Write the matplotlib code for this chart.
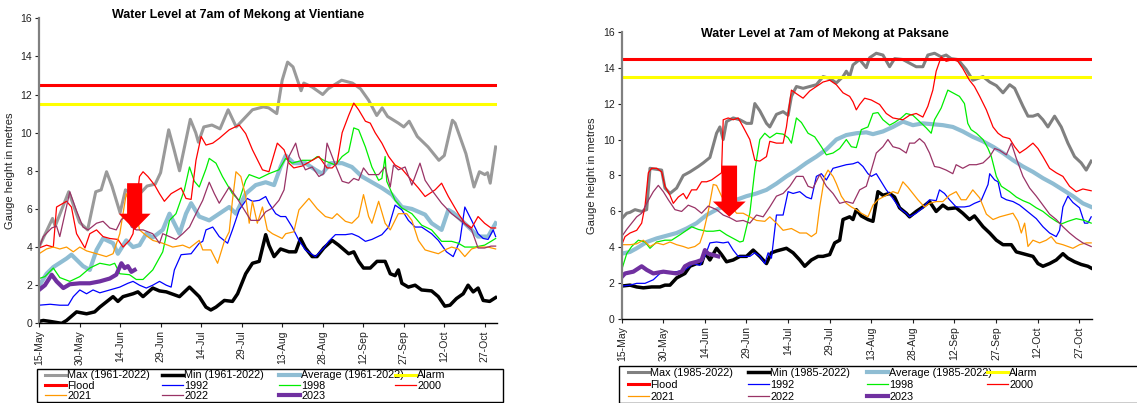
import matplotlib
matplotlib.use("Agg")
import matplotlib.pyplot as plt
from matplotlib.patches import Rectangle

plt.rcParams['font.family'] = ['Liberation Sans', 'DejaVu Sans']

# day 0 = 15 May
tick_days = [0, 15, 30, 45, 60, 75, 90, 105, 120, 135, 150, 165]
tick_labels = ['15-May', '30-May', '14-Jun', '29-Jun', '14-Jul', '29-Jul',
               '13-Aug', '28-Aug', '12-Sep', '27-Sep', '12-Oct', '27-Oct']

# ---------------- Vientiane ----------------
vte_flood = 12.5
vte_alarm = 11.5

vte_max_d = [0, 5, 6, 11, 15, 18, 21, 23, 25, 27, 30, 32, 36, 40, 43, 45, 48, 50, 52, 56, 58, 59, 61, 64, 67, 70,
             73, 75, 79, 83, 85, 88, 90, 92, 94, 97, 98, 101, 105, 107, 112, 116, 119, 122, 125, 127, 129, 133, 135,
             137, 140, 144, 148, 150, 153, 154, 158, 161, 163, 165, 166, 167, 169]
vte_max_v = [4.0, 5.5, 5.1, 6.9, 5.3, 4.9, 6.9, 7.0, 7.95, 7.2, 5.8, 7.0, 6.6, 7.2, 7.3, 7.9, 10.15, 9.1, 8.0, 10.7,
             10.0, 9.5, 10.3, 10.4, 10.2, 11.2, 10.3, 10.6, 11.2, 11.35, 11.3, 11.0, 12.75, 13.7, 13.45, 12.2, 12.6,
             12.4, 12.0, 12.3, 12.75, 12.6, 12.3, 11.7, 10.9, 11.3, 10.85, 10.5, 10.3, 10.6, 9.8, 9.25, 8.55, 8.8,
             10.65, 10.5, 8.9, 7.15, 7.95, 7.8, 7.9, 7.35, 9.25]

vte_min_d = [0, 1.6, 4.1, 8.4, 10.2, 13.9, 17.6, 20.6, 22.5, 27.4, 29.2, 31.1, 34.8, 36.6, 38.5, 42.1, 44.6, 47.1,
             52.0, 55.7, 59.3, 61.8, 63.6, 65.5, 68.6, 71.6, 73.5, 76.5, 79.0, 81.5, 83.9, 85.1, 87.0, 89.4, 92.5,
             95.0, 96.8, 98.6, 101.1, 102.9, 105.4, 108.5, 110.9, 114.6, 116.5, 118.3, 120.1, 122.6, 125.1, 128.1,
             130.0, 131.8, 133.0, 134.3, 136.7, 139.2, 141.6, 145.3, 147.8, 150.2, 152.1, 154.5, 157.0, 158.8,
             160.7, 162.5, 164.4, 166.8, 169]
vte_min_v = [0.1, 0.15, 0.1, 0.0, 0.15, 0.6, 0.5, 0.6, 0.85, 1.4, 1.15, 1.4, 1.55, 1.65, 1.4, 1.85, 1.7, 1.65,
             1.4, 1.9, 1.4, 0.85, 0.7, 0.85, 1.2, 1.15, 1.55, 2.6, 3.15, 3.25, 4.65, 4.1, 3.5, 3.9, 3.75, 3.75,
             4.45, 3.95, 3.5, 3.5, 3.95, 4.35, 4.1, 3.65, 3.75, 3.25, 2.9, 2.9, 3.25, 3.25, 2.6, 2.5, 2.8, 2.1,
             1.9, 2.0, 1.75, 1.7, 1.4, 0.9, 0.95, 1.3, 1.55, 2.0, 1.65, 1.85, 1.2, 1.15, 1.35]

vte_avg_d = [0, 2.8, 5.3, 10.2, 12.0, 16.3, 18.8, 21.3, 23.7, 27.4, 29.2, 32.3, 34.8, 37.2, 39.7, 42.1, 45.8,
             48.3, 52.0, 54.4, 56.3, 59.3, 63.0, 66.7, 70.4, 72.9, 76.5, 80.2, 83.9, 87.0, 89.4, 91.3, 94.3, 98.6,
             102.3, 104.8, 107.9, 112.2, 115.8, 119.5, 123.2, 126.9, 130.6, 134.3, 138.0, 142.9, 145.3, 149.0,
             151.5, 153.3, 156.4, 160.1, 162.5, 166.2, 169]
vte_avg_v = [1.95, 2.6, 2.95, 3.4, 3.6, 3.0, 2.8, 3.85, 4.45, 4.2, 3.65, 4.35, 4.0, 4.1, 4.7, 4.5, 4.9, 5.75,
             4.7, 5.75, 6.3, 5.6, 5.4, 5.75, 6.1, 5.75, 6.8, 7.25, 7.4, 7.25, 8.2, 8.8, 8.4, 8.4, 8.05, 7.85, 8.4,
             8.4, 8.2, 7.7, 7.4, 7.1, 6.75, 6.1, 6.0, 5.7, 5.25, 4.9, 5.95, 5.8, 5.4, 4.9, 4.55, 4.55, 5.25]

vte_1992_d = [0, 4.1, 7.7, 10.8, 12.7, 15.1, 17.6, 20.0, 22.5, 26.2, 29.9, 32.9, 34.8, 37.2, 39.7, 42.1, 44.6,
              47.1, 48.9, 50.1, 52.6, 56.3, 59.3, 60.6, 61.8, 64.3, 66.7, 69.8, 71.6, 74.1, 77.1, 79.0, 81.5,
              83.9, 85.1, 87.6, 89.4, 91.3, 93.7, 96.2, 98.6, 102.3, 105.4, 107.2, 109.7, 113.4, 115.8, 118.3,
              120.8, 123.2, 126.9, 129.4, 131.8, 134.3, 136.7, 139.2, 141.6, 145.3, 147.8, 150.8, 153.3, 155.8,
              157.6, 160.1, 162.5, 164.4, 166.2, 168.1, 169]
vte_1992_v = [0.95, 1.0, 0.95, 0.95, 1.4, 1.75, 1.55, 1.75, 1.6, 1.75, 1.9, 2.1, 2.2, 2.0, 1.85, 2.0, 2.2, 2.0,
              1.9, 2.8, 3.6, 3.65, 4.2, 4.3, 4.9, 5.05, 4.55, 4.2, 4.9, 5.95, 6.55, 6.4, 6.45, 6.65, 6.3, 5.75,
              5.6, 5.6, 5.05, 4.35, 3.85, 3.5, 3.95, 4.3, 4.65, 4.65, 4.7, 4.55, 4.3, 4.4, 4.65, 5.05, 6.2, 5.95,
              5.4, 5.05, 5.05, 4.7, 4.35, 3.75, 3.5, 4.35, 6.1, 5.4, 4.7, 4.45, 4.4, 4.9, 4.55]

vte_1998_d = [0, 2.2, 5.3, 7.7, 11.4, 15.1, 18.8, 22.5, 26.2, 28.0, 29.9, 33.5, 36.0, 38.5, 42.1, 45.8, 48.3,
              50.7, 53.8, 55.7, 57.5, 59.3, 61.8, 63.0, 65.5, 67.9, 71.6, 74.1, 76.5, 77.8, 81.5, 85.1, 88.8,
              91.3, 93.7, 97.4, 101.1, 103.0, 105.4, 109.7, 112.2, 114.6, 116.5, 118.3, 120.8, 123.2, 125.7,
              126.9, 128.1, 128.7, 131.8, 134.3, 138.0, 141.6, 145.3, 149.0, 152.7, 155.2, 157.6, 161.3, 164.9,
              167.3, 169]
vte_1998_v = [2.35, 2.45, 2.9, 2.4, 2.2, 2.45, 2.9, 3.15, 3.05, 3.15, 2.6, 2.55, 2.3, 2.3, 2.8, 3.75, 5.4, 5.75,
              7.0, 8.2, 7.45, 7.15, 8.1, 8.65, 8.4, 7.7, 6.8, 6.45, 7.5, 7.8, 7.6, 7.85, 8.05, 8.65, 8.4, 8.55,
              8.55, 8.75, 8.55, 8.3, 8.75, 9.0, 10.25, 10.15, 9.25, 8.2, 7.5, 7.6, 8.75, 7.45, 6.45, 6.05, 5.75,
              5.15, 4.9, 4.3, 4.3, 4.2, 4.0, 4.0, 4.1, 4.3, 4.45]

vte_2000_d = [0, 2.8, 5.3, 6.5, 10.2, 12.0, 13.9, 17.0, 18.8, 21.3, 23.7, 26.2, 29.2, 31.1, 33.5, 34.8, 37.2,
              38.5, 40.3, 42.8, 44.6, 46.4, 48.9, 52.6, 54.4, 56.3, 58.1, 60.0, 61.8, 64.3, 66.7, 70.4, 74.1,
              76.5, 79.0, 82.7, 85.1, 88.2, 90.7, 92.5, 94.3, 97.4, 100.5, 103.6, 106.6, 108.5, 110.3, 112.2,
              114.6, 116.5, 118.3, 120.8, 122.6, 124.4, 126.9, 129.4, 131.8, 134.3, 136.7, 140.4, 142.9, 146.6,
              149.0, 151.5, 155.2, 157.6, 160.1, 162.5, 164.9, 167.3, 169]
vte_2000_v = [3.95, 4.1, 4.0, 6.1, 6.4, 6.1, 4.7, 3.95, 4.7, 4.9, 4.55, 4.45, 4.4, 4.0, 4.35, 4.7, 7.7, 7.95,
              7.7, 7.25, 6.8, 6.4, 6.8, 7.1, 6.55, 6.5, 8.55, 9.8, 9.35, 9.45, 9.7, 10.15, 10.4, 9.95, 9.1, 8.05,
              7.95, 9.45, 9.1, 8.4, 8.15, 8.25, 8.5, 8.75, 8.15, 8.15, 8.4, 10.0, 10.9, 11.55, 11.2, 10.6, 10.5,
              10.0, 9.45, 8.75, 8.3, 8.1, 7.7, 7.1, 6.65, 7.0, 7.35, 6.65, 5.75, 5.25, 5.0, 5.6, 5.25, 5.0, 5.0]

vte_2021_d = [0, 2.8, 5.3, 7.7, 10.2, 12.7, 15.1, 17.6, 21.3, 24.9, 27.4, 29.9, 31.1, 32.3, 33.5, 34.8, 36.0,
              37.2, 39.7, 42.1, 45.8, 49.5, 53.2, 55.7, 59.3, 60.6, 63.6, 66.1, 68.6, 70.4, 71.6, 72.9, 74.7,
              76.5, 77.8, 79.0, 80.8, 82.7, 84.5, 86.4, 90.0, 91.3, 94.3, 96.2, 99.9, 103.0, 106.0, 108.5, 110.3,
              113.4, 115.8, 118.3, 120.1, 122.0, 123.2, 125.7, 128.1, 130.0, 133.0, 136.1, 138.0, 140.4, 142.9,
              145.3, 147.8, 150.2, 152.7, 155.2, 157.6, 160.1, 162.5, 166.2, 169]
vte_2021_v = [3.65, 3.9, 4.0, 3.9, 4.0, 3.75, 4.0, 3.8, 3.65, 3.5, 3.65, 4.7, 5.75, 6.8, 6.3, 5.95, 5.8, 4.9,
              4.6, 4.35, 4.2, 4.0, 4.1, 3.95, 4.35, 3.85, 3.85, 3.15, 4.3, 4.8, 6.45, 7.95, 7.7, 6.65, 5.25, 6.4,
              5.25, 6.1, 4.9, 4.7, 4.45, 4.7, 4.8, 5.95, 6.55, 6.0, 5.6, 5.5, 5.75, 5.35, 5.25, 5.6, 6.75, 5.6,
              5.25, 6.4, 5.25, 4.9, 5.75, 5.75, 5.4, 4.35, 3.85, 3.75, 3.65, 3.85, 4.0, 3.9, 3.5, 3.9, 4.0, 4.0,
              3.9]

vte_2022_d = [0, 1.6, 4.7, 6.5, 7.7, 9.6, 11.4, 13.9, 16.3, 18.2, 21.3, 23.7, 26.2, 28.6, 30.5, 32.3, 34.2,
              36.0, 38.5, 42.1, 44.6, 45.8, 48.3, 50.7, 53.2, 55.7, 58.1, 60.6, 63.0, 64.9, 66.7, 70.4, 72.9,
              75.3, 78.4, 81.5, 83.9, 86.4, 88.8, 90.7, 92.5, 95.0, 96.2, 98.6, 101.1, 103.6, 105.4, 106.6, 108.5,
              109.7, 112.2, 114.6, 116.5, 118.3, 120.1, 122.0, 125.7, 128.1, 130.0, 131.2, 133.0, 135.5, 138.0,
              141.0, 142.9, 145.3, 149.0, 152.7, 156.4, 160.1, 162.5, 164.9, 167.3, 169]
vte_2022_v = [3.95, 4.55, 5.0, 5.1, 4.55, 5.75, 6.9, 5.9, 5.05, 4.9, 5.25, 5.35, 5.0, 4.9, 5.45, 5.6, 5.05, 4.9,
              4.9, 4.7, 4.2, 4.7, 4.55, 4.4, 4.7, 5.05, 5.75, 6.45, 7.4, 6.8, 6.3, 7.15, 6.65, 6.1, 5.4, 5.4,
              5.85, 6.05, 6.45, 7.0, 8.75, 9.45, 8.75, 8.05, 8.2, 7.7, 7.85, 9.45, 8.75, 8.3, 7.45, 7.35, 7.6,
              7.5, 8.15, 7.8, 7.8, 8.2, 7.15, 8.3, 8.05, 8.2, 7.25, 8.4, 7.5, 7.0, 6.3, 5.75, 5.35, 4.9, 3.95,
              3.95, 4.05, 4.05]

vte_2023_d = [0, 2.2, 4.7, 6.5, 9.0, 11.4, 15.1, 18.8, 22.5, 26.2, 28.6, 30.5, 31.7, 32.9, 34.2, 35.4]
vte_2023_v = [1.75, 2.0, 2.55, 2.2, 1.85, 2.05, 2.1, 2.1, 2.2, 2.35, 2.55, 3.15, 2.9, 3.0, 2.7, 2.8]

# ---------------- Paksane ----------------
pks_flood = 14.5
pks_alarm = 13.5

pks_max_d = [0, 1.8, 3.0, 4.8, 7.2, 9.0, 10.2, 14.4, 15.6, 17.4, 19.8, 22.2, 24.6, 27.6, 29.4, 31.8, 34.2,
             35.4, 36.6, 37.8, 40.2, 42.6, 45.0, 46.8, 48.0, 49.8, 52.2, 53.4, 55.8, 58.2, 60.0, 61.2, 63.0,
             65.4, 67.8, 70.2, 72.6, 75.0, 77.4, 79.8, 81.0, 82.2, 83.4, 85.8, 88.2, 89.4, 91.8, 94.2, 96.6,
             98.4, 101.4, 103.8, 106.2, 108.6, 110.4, 112.8, 115.2, 117.0, 118.8, 121.2, 124.2, 126.6, 130.3,
             132.7, 135.1, 137.5, 139.9, 141.7, 144.7, 146.5, 148.3, 150.1, 151.9, 153.7, 156.1, 158.5, 160.9,
             163.3, 165.7, 167.5, 169.3]
pks_max_v = [5.6, 5.9, 5.95, 6.1, 6.0, 6.1, 8.4, 8.3, 7.3, 7.0, 7.3, 8.0, 8.2, 8.5, 8.7, 9.0, 10.35, 10.7,
             10.0, 11.0, 11.2, 11.1, 10.9, 10.9, 12.0, 11.6, 10.9, 10.7, 11.4, 11.55, 11.35, 12.4, 12.95, 12.85,
             12.95, 13.05, 13.5, 13.4, 13.15, 13.5, 13.8, 13.5, 14.15, 14.45, 14.0, 14.55, 14.8, 14.7, 14.05,
             14.5, 14.45, 14.25, 14.05, 14.05, 14.7, 14.8, 14.6, 14.7, 14.5, 14.45, 13.9, 13.3, 13.5, 13.2, 13.0,
             12.6, 13.05, 12.85, 11.85, 11.3, 11.3, 11.4, 11.1, 10.7, 11.3, 10.7, 9.8, 9.05, 8.7, 8.3, 8.8]

pks_min_d = [0, 3.0, 5.4, 7.8, 10.8, 13.8, 15.6, 17.4, 19.8, 22.8, 24.6, 27.0, 28.8, 30.0, 31.8, 34.2, 36.0,
             37.8, 40.2, 42.6, 45.0, 47.4, 49.8, 52.2, 54.0, 55.8, 59.4, 61.8, 64.2, 66.0, 68.4, 70.8, 72.6,
             75.0, 76.8, 78.6, 79.8, 82.2, 83.4, 84.6, 86.4, 88.8, 90.6, 92.4, 94.2, 96.6, 98.4, 100.2, 102.6,
             103.8, 106.2, 108.6, 111.0, 113.4, 115.8, 117.6, 120.6, 123.0, 125.4, 127.2, 130.3, 132.7, 135.1,
             137.5, 140.5, 142.3, 144.7, 148.3, 150.1, 151.9, 154.3, 156.7, 159.1, 160.9, 163.3, 165.7, 168.1,
             169.3]
pks_min_v = [1.85, 1.9, 1.8, 1.75, 1.8, 1.8, 1.9, 1.9, 2.3, 2.55, 2.95, 3.1, 3.1, 3.7, 3.3, 3.95, 3.6, 3.2,
             3.3, 3.5, 3.5, 3.85, 3.5, 3.1, 3.7, 3.8, 3.95, 3.7, 3.3, 2.95, 3.3, 3.5, 3.5, 3.6, 4.25, 4.4, 5.55,
             5.7, 5.55, 6.1, 5.75, 5.55, 5.45, 7.1, 6.9, 7.0, 6.8, 6.2, 5.9, 5.7, 6.0, 6.25, 6.55, 6.0, 6.35,
             6.15, 6.2, 5.9, 5.55, 5.75, 5.15, 4.8, 4.4, 4.15, 4.15, 3.75, 3.65, 3.5, 3.1, 2.95, 3.1, 3.3, 3.65,
             3.4, 3.2, 3.05, 2.95, 2.85]

pks_avg_d = [0, 3.0, 5.4, 9.0, 12.6, 16.2, 19.8, 23.4, 27.0, 30.6, 34.2, 37.8, 41.4, 45.0, 48.6, 52.2, 55.8,
             59.4, 63.0, 66.6, 70.2, 73.8, 77.4, 81.0, 84.6, 88.2, 90.6, 94.2, 97.8, 101.4, 105.0, 108.6, 112.2,
             115.8, 119.4, 123.0, 126.6, 130.3, 133.9, 137.5, 141.1, 144.7, 148.3, 151.9, 155.5, 159.1, 162.7,
             166.3, 169.3]
pks_avg_v = [3.65, 3.75, 3.95, 4.3, 4.5, 4.65, 4.8, 5.05, 5.35, 5.8, 6.1, 6.35, 6.65, 6.85, 7.0, 7.2, 7.55,
             7.95, 8.3, 8.7, 9.05, 9.45, 10.0, 10.25, 10.35, 10.4, 10.3, 10.45, 10.7, 11.0, 10.8, 10.9, 10.85,
             10.8, 10.7, 10.45, 10.15, 9.9, 9.6, 9.25, 8.85, 8.5, 8.2, 7.85, 7.55, 7.2, 6.85, 6.45, 6.25]

pks_1992_d = [0, 3.0, 5.4, 8.4, 11.4, 13.8, 16.2, 19.8, 22.8, 25.8, 28.2, 30.0, 31.8, 34.2, 36.6, 38.4, 40.2,
              42.0, 43.8, 46.2, 48.0, 49.8, 51.6, 52.8, 54.0, 55.8, 58.2, 60.0, 61.8, 64.2, 66.6, 68.4, 70.2,
              72.0, 73.8, 76.2, 78.6, 81.0, 83.4, 85.2, 87.0, 88.8, 90.0, 91.8, 93.6, 95.4, 97.2, 99.0, 100.8,
              102.6, 103.8, 106.2, 108.6, 111.0, 113.4, 114.6, 116.4, 118.2, 120.6, 123.6, 125.4, 127.2, 129.6,
              132.1, 132.7, 134.5, 135.7, 136.9, 138.7, 141.1, 143.5, 147.1, 149.5, 151.9, 154.3, 156.7, 157.9,
              159.1, 160.9, 162.7, 165.1, 166.9, 168.1, 169.3]
pks_1992_v = [1.85, 1.9, 2.0, 2.0, 2.2, 2.55, 2.65, 2.65, 2.75, 3.1, 3.0, 3.5, 4.25, 4.3, 4.25, 4.3, 3.85, 3.5,
              3.5, 3.5, 3.7, 3.5, 3.1, 3.7, 3.4, 5.8, 5.8, 7.1, 7.0, 7.1, 6.8, 6.7, 7.95, 8.1, 7.75, 8.4, 8.5,
              8.6, 8.65, 8.75, 8.5, 8.1, 7.95, 8.1, 7.65, 7.2, 6.85, 6.45, 6.1, 5.9, 5.7, 5.9, 6.2, 6.65, 6.6,
              7.2, 7.0, 6.65, 6.25, 6.25, 6.3, 6.45, 6.6, 7.5, 8.1, 7.75, 7.65, 6.8, 6.65, 6.55, 6.35, 5.9, 5.6,
              5.15, 4.8, 4.6, 4.95, 6.25, 6.85, 6.5, 6.2, 5.35, 5.35, 5.7]

pks_1998_d = [0, 1.8, 3.6, 6.0, 8.4, 10.2, 12.6, 15.6, 18.0, 21.0, 23.4, 25.2, 27.6, 30.6, 33.0, 35.4, 37.8,
              40.2, 42.6, 43.8, 46.2, 48.0, 49.8, 51.6, 53.4, 55.8, 58.2, 60.0, 61.2, 63.0, 64.8, 67.2, 69.6,
              72.0, 73.8, 76.2, 78.6, 81.0, 82.8, 84.6, 86.4, 88.8, 90.6, 92.4, 94.2, 96.6, 98.4, 100.8, 102.6,
              105.0, 107.4, 109.8, 111.6, 112.8, 115.2, 117.6, 119.4, 121.8, 123.6, 124.8, 126.0, 127.9, 130.3,
              132.1, 133.3, 135.1, 136.9, 139.9, 142.3, 144.7, 147.1, 149.5, 151.9, 154.3, 156.7, 158.5, 160.9,
              163.9, 166.9, 169.3]
pks_1998_v = [2.75, 3.65, 4.05, 4.4, 4.3, 3.95, 4.3, 4.4, 4.4, 4.7, 4.95, 5.15, 5.0, 4.9, 4.9, 4.95, 4.7, 4.5,
              4.3, 4.35, 5.9, 8.3, 10.0, 10.35, 10.1, 10.35, 10.3, 10.1, 9.8, 11.2, 10.95, 10.35, 10.15, 9.6,
              9.15, 9.25, 9.5, 10.0, 9.6, 9.55, 10.55, 10.7, 11.45, 11.5, 11.1, 10.8, 10.95, 11.2, 11.45, 11.35,
              11.0, 10.65, 10.35, 11.1, 11.75, 12.75, 12.6, 12.4, 12.0, 10.9, 10.55, 10.35, 10.0, 9.5, 9.05,
              7.95, 7.4, 7.1, 6.8, 6.6, 6.45, 6.2, 6.0, 5.7, 5.45, 5.3, 5.45, 5.6, 5.5, 5.35]

pks_2000_d = [0, 1.2, 3.0, 5.4, 7.2, 8.4, 9.6, 10.8, 12.6, 14.4, 15.6, 17.4, 18.6, 20.4, 22.2, 23.4, 25.2,
              27.0, 28.8, 30.6, 32.4, 34.2, 36.0, 36.6, 38.4, 40.2, 42.0, 43.8, 46.2, 48.0, 49.8, 52.2, 53.4,
              55.8, 58.2, 59.4, 61.2, 63.0, 65.4, 67.8, 70.2, 72.6, 75.0, 77.4, 79.8, 82.2, 83.4, 84.6, 85.8,
              87.6, 90.0, 93.0, 95.4, 97.8, 101.4, 103.8, 106.2, 108.6, 110.4, 112.2, 113.4, 115.2, 117.0, 119.4,
              121.2, 123.0, 125.4, 127.2, 129.1, 131.5, 133.9, 135.7, 137.5, 139.9, 141.7, 143.5, 145.9, 148.3,
              150.1, 151.9, 154.3, 156.7, 159.1, 161.5, 163.9, 166.3, 169.3]
pks_2000_v = [4.15, 4.6, 4.8, 4.95, 5.35, 6.3, 8.15, 8.4, 8.4, 8.2, 7.4, 6.9, 6.45, 6.8, 7.0, 6.7, 7.2, 7.2,
              7.65, 7.65, 7.75, 7.95, 8.15, 11.1, 11.2, 11.1, 11.2, 10.7, 10.0, 8.85, 8.8, 9.05, 9.9, 9.8, 9.8,
              10.7, 12.75, 12.55, 12.3, 12.7, 12.95, 13.2, 13.3, 13.05, 12.6, 12.4, 12.1, 11.65, 11.95, 12.3,
              12.2, 11.95, 11.45, 11.2, 11.1, 11.35, 11.45, 11.25, 11.85, 12.75, 13.8, 14.6, 14.35, 14.45, 14.35,
              13.95, 13.3, 12.95, 12.4, 11.65, 10.7, 10.35, 10.15, 10.05, 9.6, 9.25, 9.5, 9.8, 9.5, 9.05, 8.4,
              8.15, 7.95, 7.4, 7.1, 7.25, 7.15]

pks_2021_d = [0, 3.0, 5.4, 7.8, 10.2, 12.6, 15.0, 17.4, 19.8, 22.2, 24.0, 26.4, 28.2, 29.4, 31.2, 33.0, 34.2,
              36.0, 37.8, 39.6, 41.4, 43.8, 46.2, 48.6, 51.6, 53.4, 55.8, 58.2, 61.2, 64.2, 66.6, 68.4, 70.2,
              71.4, 73.2, 74.4, 76.2, 77.4, 79.2, 81.0, 82.8, 84.6, 86.4, 88.8, 90.6, 92.4, 94.8, 97.8, 99.6,
              101.4, 103.2, 105.0, 106.8, 109.2, 111.0, 113.4, 115.8, 118.2, 120.6, 122.4, 124.2, 126.6, 129.1,
              131.5, 133.9, 136.3, 138.7, 141.1, 142.9, 144.1, 145.3, 146.5, 148.3, 150.7, 153.1, 154.9, 156.7,
              159.1, 160.9, 162.7, 165.1, 167.5, 169.3]
pks_2021_v = [4.15, 4.15, 4.2, 4.4, 4.05, 4.25, 4.15, 4.3, 4.15, 4.05, 3.95, 4.05, 4.25, 4.8, 6.0, 7.5, 7.45,
              6.85, 6.45, 6.3, 5.9, 5.9, 5.7, 5.5, 5.45, 5.7, 5.35, 4.95, 5.05, 4.8, 4.8, 4.6, 4.8, 6.25, 7.95,
              8.3, 7.95, 7.55, 6.85, 6.45, 6.25, 6.1, 5.9, 5.7, 6.35, 6.65, 6.85, 7.1, 7.0, 7.65, 7.35, 7.0,
              6.65, 6.25, 6.45, 6.55, 6.55, 6.9, 7.1, 6.65, 6.65, 7.2, 6.75, 5.85, 5.55, 5.7, 5.8, 5.9, 5.45,
              4.8, 5.35, 4.05, 4.4, 4.25, 4.4, 4.6, 4.25, 4.15, 4.05, 3.95, 4.15, 4.25, 4.25]

pks_2022_d = [0, 1.8, 3.6, 5.4, 7.2, 9.0, 11.4, 13.2, 15.0, 16.8, 19.2, 21.6, 24.0, 26.4, 28.8, 31.2, 34.2,
              36.6, 39.0, 41.4, 43.8, 46.2, 48.6, 51.0, 53.4, 55.8, 58.2, 60.6, 63.0, 65.4, 67.2, 69.0, 71.4,
              73.8, 76.2, 78.6, 81.0, 83.4, 85.8, 88.2, 90.0, 91.8, 94.2, 96.0, 97.8, 100.2, 102.6, 103.8, 105.6,
              107.4, 109.2, 111.0, 112.8, 114.6, 117.0, 119.4, 120.6, 123.0, 125.4, 127.9, 130.3, 132.7, 134.5,
              136.3, 138.7, 140.5, 142.3, 144.7, 147.1, 149.5, 151.9, 154.3, 156.7, 159.1, 161.5, 163.9, 166.3,
              169.3]
pks_2022_v = [4.6, 5.0, 5.35, 5.7, 5.9, 6.45, 7.1, 7.45, 7.1, 6.65, 6.1, 6.0, 6.35, 6.2, 5.9, 6.3, 6.1, 5.8,
              5.65, 5.45, 5.5, 5.35, 5.8, 5.7, 6.25, 6.85, 7.0, 7.4, 7.95, 7.95, 7.4, 7.3, 8.05, 7.4, 7.0, 6.45,
              6.55, 6.45, 7.2, 7.4, 8.3, 9.25, 9.6, 10.0, 9.6, 9.5, 9.25, 9.8, 9.8, 10.05, 9.8, 9.25, 8.5, 8.45,
              8.3, 8.1, 8.6, 8.4, 8.6, 8.6, 8.7, 9.05, 9.5, 9.4, 9.15, 9.8, 8.95, 7.95, 7.3, 6.85, 6.35, 5.85,
              5.55, 5.15, 4.8, 4.5, 4.25, 4.05]

pks_2023_d = [0, 1.2, 4.2, 7.2, 9.0, 11.4, 15.0, 17.4, 19.8, 21.6, 22.8, 24.6, 27.0, 28.8, 30.0, 31.2, 32.4, 34.8]
pks_2023_v = [2.35, 2.55, 2.65, 2.95, 2.75, 2.55, 2.65, 2.6, 2.55, 2.65, 2.95, 3.1, 3.2, 3.3, 3.85, 3.65, 3.6, 3.5]

# red arrows (day of tip, top value, tip value)
vte_arrow = (35.4, 7.35, 4.9)
pks_arrow = (38.8, 8.55, 5.7)

W, H = 1137, 403
fig = plt.figure(figsize=(W / 100, H / 100), dpi=100)
ax1 = fig.add_axes([0.0343, 0.1977, 0.4028, 0.757])
ax2 = fig.add_axes([0.5468, 0.2077, 0.4134, 0.7137])

# legend layout in pixels: frame (x0, y0, x1, y1), column x, top of first row, row gap
vte_leg = dict(frame=(37, 369, 503, 401.5), cols=[45, 162, 279, 395], top=370.5, gap=0.02)
pks_leg = dict(frame=(619, 366, 1150, 402.5), cols=[628, 748, 867, 987], top=368, gap=0.18)

charts = [
    (ax1, '1961-2022', '#9a9a9a', vte_flood, vte_alarm,
     [(vte_max_d, vte_max_v), (vte_min_d, vte_min_v), (vte_avg_d, vte_avg_v),
      (vte_1992_d, vte_1992_v), (vte_1998_d, vte_1998_v), (vte_2000_d, vte_2000_v),
      (vte_2021_d, vte_2021_v), (vte_2022_d, vte_2022_v), (vte_2023_d, vte_2023_v)], vte_arrow, vte_leg),
    (ax2, '1985-2022', '#808080', pks_flood, pks_alarm,
     [(pks_max_d, pks_max_v), (pks_min_d, pks_min_v), (pks_avg_d, pks_avg_v),
      (pks_1992_d, pks_1992_v), (pks_1998_d, pks_1998_v), (pks_2000_d, pks_2000_v),
      (pks_2021_d, pks_2021_v), (pks_2022_d, pks_2022_v), (pks_2023_d, pks_2023_v)], pks_arrow, pks_leg),
]

for ax, period, maxcol, flood, alarm, series, arrow, lg in charts:
    h = {}
    h['max'], = ax.plot(*series[0], color=maxcol, lw=2.2, label=f'Max ({period})')
    h['min'], = ax.plot(*series[1], color='black', lw=2.5, label=f'Min ({period})')
    h['avg'], = ax.plot(*series[2], color='#8fbdd3', lw=3.0, label=f'Average ({period})')
    h['alarm'] = ax.axhline(alarm, color='#ffff00', lw=2.2, label='Alarm')
    h['flood'] = ax.axhline(flood, color='#ff0000', lw=2.2, label='Flood')
    h['1992'], = ax.plot(*series[3], color='#0000ff', lw=0.9, label='1992')
    h['1998'], = ax.plot(*series[4], color='#00ee00', lw=0.9, label='1998')
    h['2000'], = ax.plot(*series[5], color='#ff0000', lw=0.9, label='2000')
    h['2021'], = ax.plot(*series[6], color='#ff9900', lw=0.9, label='2021')
    h['2022'], = ax.plot(*series[7], color='#993366', lw=0.9, label='2022')
    h['2023'], = ax.plot(*series[8], color='#7030a0', lw=3.0, label='2023')

    x0, ytop, ytip = arrow
    ax.arrow(x0, ytop, 0, ytip - ytop, width=5.6, head_width=11.8, head_length=0.85,
             length_includes_head=True, color='#ff0000', lw=0, zorder=5)

    ax.set_xlim(0, 169.5)
    ax.set_ylim(0, 16)
    ax.set_yticks(range(0, 17, 2))
    ax.set_xticks(tick_days)
    ax.set_xticklabels(tick_labels, rotation=90)
    ax.tick_params(labelsize=7.5, length=3, width=0.8, colors='#222222', pad=2)
    ax.spines['top'].set_visible(False)
    ax.spines['right'].set_visible(False)
    ax.spines['left'].set_color('#808080')
    ax.spines['left'].set_linewidth(1.6)
    ax.spines['bottom'].set_linewidth(1.0)
    ax.set_ylabel('Gauge height in metres', fontsize=8, color='#222222', labelpad=4)

    # legend: frame plus one frameless legend per column (row-wise order as in the original)
    fx0, fy0, fx1, fy1 = lg['frame']
    fig.patches.append(Rectangle((fx0 / W, 1 - fy1 / H), (fx1 - fx0) / W, (fy1 - fy0) / H,
                                 transform=fig.transFigure, fill=False, edgecolor='black', lw=1.0))
    columns = [['max', 'flood', '2021'], ['min', '1992', '2022'], ['avg', '1998', '2023'], ['alarm', '2000']]
    for cx, keys in zip(lg['cols'], columns):
        hs = [h[k] for k in keys]
        leg = fig.legend(handles=hs, labels=[x.get_label() for x in hs], loc='upper left',
                         bbox_to_anchor=(cx / W, 1 - lg['top'] / H), frameon=False, fontsize=7.8,
                         handlelength=1.9, handletextpad=0.15, labelspacing=lg['gap'], borderpad=0,
                         borderaxespad=0)

fig.text(238 / W, 1 - 15 / H, 'Water Level at 7am of Mekong at Vientiane', ha='center', va='center',
         fontsize=9, fontweight='bold')
fig.text(825 / W, 1 - 34 / H, 'Water Level at 7am of Mekong at Paksane', ha='center', va='center',
         fontsize=9, fontweight='bold')

fig.savefig('out.png', dpi=100)
